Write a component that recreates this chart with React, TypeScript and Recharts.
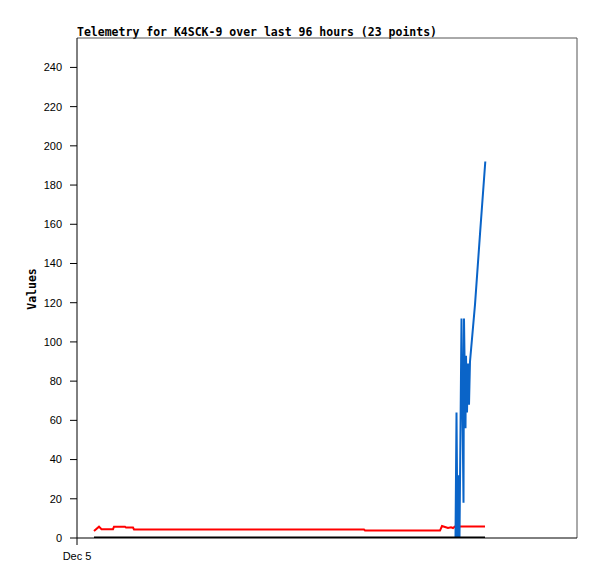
import { LineChart, Line, XAxis, YAxis, ReferenceLine } from 'recharts'

// hours since Dec 5 00:00
const redHours = [3.4, 4.4, 4.9, 7.2, 7.4, 9.6, 9.8, 11.2, 11.4, 57.4, 57.6, 72.6, 73.0, 73.6, 74.2, 74.8, 75.2, 75.6, 81.6]
const redValues = [3.6, 5.8, 4.5, 4.5, 5.8, 5.8, 5.3, 5.3, 4.3, 4.3, 3.8, 3.8, 6.1, 5.6, 5.1, 5.5, 5.1, 5.9, 5.9]

const blueHours = [75.7, 75.9, 76.1, 76.3, 76.5, 76.8, 76.9, 77.3, 77.4, 77.7, 77.8, 78.0, 78.2, 78.4, 78.6, 79.6, 80.6, 81.66]
const blueValues = [0, 64, 0, 32, 0, 84, 112, 18, 112, 56, 93, 64, 89, 68, 90, 119, 155, 192]

const blackHours = [3.4, 4.4, 7.2, 11.4, 57.4, 72.6, 75.6, 81.6]
const blackValues = [0.3, 0.3, 0.3, 0.3, 0.3, 0.3, 0.3, 0.3]

const yTicks = [0, 20, 40, 60, 80, 100, 120, 140, 160, 180, 200, 220, 240]
const xTicks = [0]
const xTickLabels = ['Dec 5']

const toRows = (hours: number[], values: number[]) =>
  hours.map((h, i) => ({ t: h, v: values[i] }))

const redData = toRows(redHours, redValues)
const blueData = toRows(blueHours, blueValues)
const blackData = toRows(blackHours, blackValues)

const mono = '"DejaVu Sans Mono", "Liberation Mono", monospace'
const sans = '"Liberation Sans", Arial, sans-serif'

export default function App() {
  return (
    <div style={{ position: 'absolute', left: 0, top: 0, width: 597, height: 579, background: '#fff' }}>
      <div
        style={{
          position: 'absolute',
          left: 77,
          top: 25,
          fontFamily: mono,
          fontWeight: 'bold',
          fontSize: 11.5,
          lineHeight: '14px',
          color: '#000',
          whiteSpace: 'nowrap',
        }}
      >
        Telemetry for K4SCK-9 over last 96 hours (23 points)
      </div>
      <LineChart
        width={597}
        height={579}
        margin={{ top: 38, right: 20, left: 17, bottom: 11 }}
      >
        <XAxis
          type="number"
          dataKey="t"
          domain={[0, 100]}
          ticks={xTicks}
          allowDataOverflow
          tickFormatter={(v) => xTickLabels[xTicks.indexOf(v)] ?? ''}
          axisLine={{ stroke: '#000' }}
          tickLine={{ stroke: '#000' }}
          tickSize={7}
          tickMargin={7}
          height={30}
          tick={{ fontSize: 11, fontFamily: sans, fill: '#000' }}
        />
        <YAxis
          type="number"
          dataKey="v"
          domain={[0, 255]}
          ticks={yTicks}
          allowDataOverflow
          width={60}
          axisLine={{ stroke: '#000' }}
          tickLine={{ stroke: '#000' }}
          tickSize={7}
          tickMargin={8}
          tick={{ fontSize: 11, fontFamily: sans, fill: '#000' }}
          label={{
            value: 'Values',
            content: () => (
              <text
                x={36}
                y={289}
                transform="rotate(-90 36 289)"
                textAnchor="middle"
                fontFamily={mono}
                fontWeight="bold"
                fontSize={11.5}
                fill="#000"
              >
                Values
              </text>
            ),
          }}
        />
        <ReferenceLine y={255} stroke="#555" strokeWidth={1} />
        <ReferenceLine x={100} stroke="#555" strokeWidth={1} />
        <Line
          data={redData}
          dataKey="v"
          type="linear"
          stroke="#ff0000"
          strokeWidth={2}
          dot={false}
          isAnimationActive={false}
        />
        <Line
          data={blueData}
          dataKey="v"
          type="linear"
          stroke="#0a64c8"
          strokeWidth={2}
          dot={false}
          isAnimationActive={false}
        />
        <Line
          data={blackData}
          dataKey="v"
          type="linear"
          stroke="#000"
          strokeWidth={2}
          dot={false}
          isAnimationActive={false}
        />
      </LineChart>
    </div>
  )
}
